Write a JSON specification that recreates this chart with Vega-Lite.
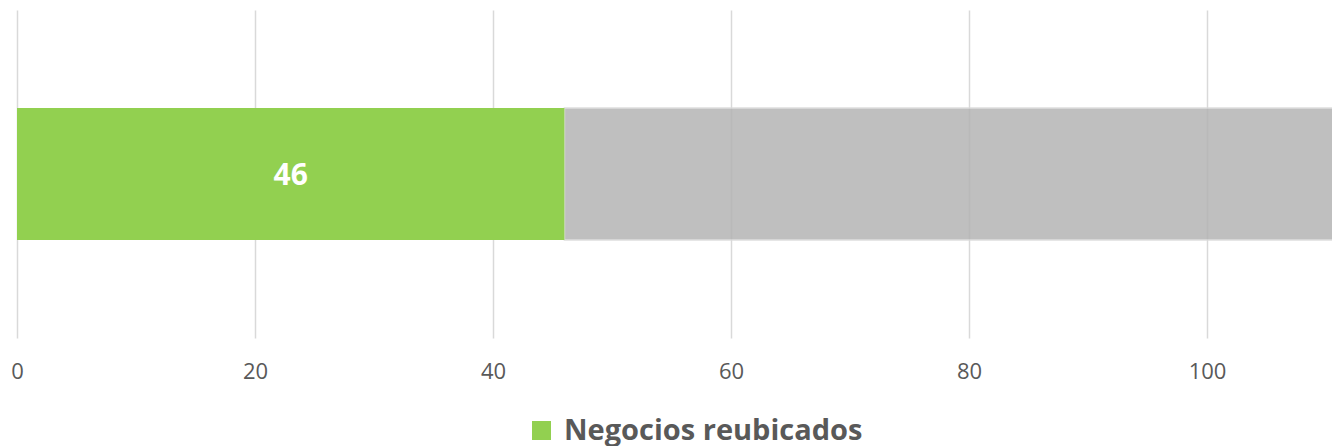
{
  "$schema": "https://vega.github.io/schema/vega-lite/v6.json",
  "width": 1315,
  "height": 328,
  "autosize": {"type": "none"},
  "padding": {"left": 17, "top": 10, "right": 0, "bottom": 108},
  "background": "white",
  "config": {
    "view": {"stroke": null},
    "font": "Open Sans"
  },
  "data": {
    "values": [
      {"row": "A", "serie": "Negocios reubicados", "inicio": 0, "fin": 46},
      {"row": "A", "serie": "Resto", "inicio": 46, "fin": 111}
    ]
  },
  "encoding": {
    "y": {
      "field": "row",
      "type": "nominal",
      "axis": null,
      "scale": {"paddingInner": 0, "paddingOuter": 0.742}
    }
  },
  "layer": [
    {
      "transform": [{"filter": "datum.serie === 'Resto'"}],
      "mark": {"type": "bar", "color": "#b3b3b3", "opacity": 0.84, "stroke": "#d9d9d9", "strokeWidth": 1.5, "clip": true},
      "encoding": {
        "x": {
          "field": "inicio",
          "type": "quantitative",
          "scale": {"domain": [0, 110.5], "nice": false, "zero": true},
          "axis": {
            "values": [0, 20, 40, 60, 80, 100],
            "grid": true,
            "gridColor": "#d9d9d9",
            "gridWidth": 1.5,
            "domain": false,
            "ticks": false,
            "labelFontSize": 22,
            "labelColor": "#595959",
            "labelPadding": 23,
            "labelFlush": false,
            "labelFont": "Open Sans",
            "title": null
          }
        },
        "x2": {"field": "fin"}
      }
    },
    {
      "transform": [{"filter": "datum.serie === 'Negocios reubicados'"}],
      "mark": {"type": "bar", "clip": true},
      "encoding": {
        "x": {"field": "inicio", "type": "quantitative"},
        "x2": {"field": "fin"},
        "color": {
          "field": "serie",
          "type": "nominal",
          "scale": {"domain": ["Negocios reubicados"], "range": ["#92d050"]},
          "legend": {
            "title": null,
            "orient": "none",
            "legendX": 510,
            "legendY": 406,
            "direction": "horizontal",
            "symbolType": "square",
            "symbolSize": 361,
            "symbolStrokeWidth": 0,
            "labelFontSize": 29,
            "labelFontWeight": "bold",
            "labelColor": "#595959",
            "labelFont": "Open Sans",
            "labelLimit": 0,
            "labelOffset": 8
          }
        }
      }
    },
    {
      "transform": [
        {"filter": "datum.serie === 'Negocios reubicados'"},
        {"calculate": "(datum.inicio + datum.fin) / 2", "as": "medio"}
      ],
      "mark": {"type": "text", "color": "white", "fontWeight": "bold", "fontSize": 30, "font": "Open Sans", "baseline": "middle", "dy": 2},
      "encoding": {
        "x": {"field": "medio", "type": "quantitative"},
        "text": {"field": "fin", "type": "quantitative"}
      }
    }
  ]
}
